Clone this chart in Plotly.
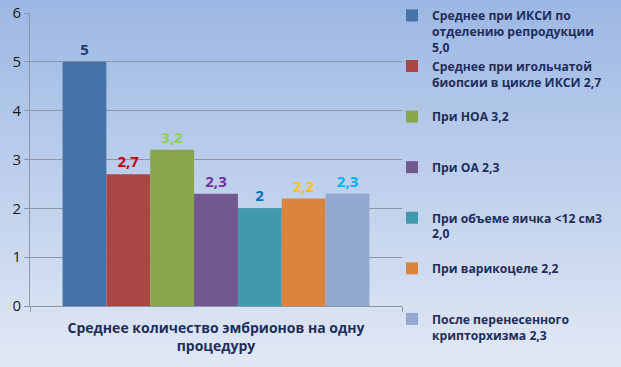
import plotly.graph_objects as go

category = "Среднее количество эмбрионов на одну<br>процедуру"
series_names = [
    "Среднее при ИКСИ по<br>отделению репродукции<br>5,0",
    "Среднее при игольчатой<br>биопсии в цикле ИКСИ 2,7<br> ",
    "При НОА 3,2<br> <br> ",
    "При ОА 2,3<br> <br> ",
    "При объеме яичка <12 см3<br>2,0<br> ",
    "При варикоцеле 2,2<br> <br> ",
    "После перенесенного<br>крипторхизма 2,3",
]
values = [5.0, 2.7, 3.2, 2.3, 2.0, 2.2, 2.3]
value_labels = ["5", "2,7", "3,2", "2,3", "2", "2,2", "2,3"]
bar_colors = ["#4572A7", "#AA4643", "#89A54E", "#71588F", "#4198AF", "#DB843D", "#93A9CF"]
label_colors = ["#1F3C73", "#C00000", "#92D050", "#7030A0", "#0070C0", "#FFC000", "#00B0F0"]
y_ticks = [0, 1, 2, 3, 4, 5, 6]

W, H = 621, 367
ml, mr, mt, mb = 30, 219, 13, 61
pw, ph = W - ml - mr, H - mt - mb

fig = go.Figure()
for name, v, lab, c, lc in zip(series_names, values, value_labels, bar_colors, label_colors):
    fig.add_trace(go.Bar(
        x=[category], y=[v], name=name,
        marker=dict(color=c, line=dict(width=0)),
        text=[lab], textposition="outside",
        textfont=dict(family="Open Sans", size=15, color=lc, weight="bold"),
        cliponaxis=False,
    ))

# background gradient
top = (157, 184, 228)
bot = (224, 232, 244)
n = 60
shapes = []
y_lo = -mb / ph
y_hi = 1 + mt / ph
for i in range(n):
    t = i / (n - 1)
    col = tuple(int(round(top[k] + (bot[k] - top[k]) * t)) for k in range(3))
    y1 = y_hi - (y_hi - y_lo) * i / n
    y0 = y_hi - (y_hi - y_lo) * (i + 1) / n - 0.002
    shapes.append(dict(type="rect", xref="paper", yref="paper",
                       x0=-ml / pw, x1=(W - ml) / pw, y0=y0, y1=y1,
                       fillcolor="rgb(%d,%d,%d)" % col, line=dict(width=0), layer="below"))

fig.update_layout(
    width=W, height=H,
    margin=dict(l=ml, r=mr, t=mt, b=mb, autoexpand=False),
    paper_bgcolor="rgb(%d,%d,%d)" % top,
    plot_bgcolor="rgba(0,0,0,0)",
    barmode="group", bargap=0.175, bargroupgap=0,
    shapes=shapes,
    font=dict(family="Open Sans", color="#1F2D5A"),
    legend=dict(
        x=(392 - ml) / pw, xanchor="left", y=1 + (mt - 1) / ph, yanchor="top",
        font=dict(family="Open Sans", size=12.2, color="#1F2D5A", weight="bold"),
        valign="top", tracegroupgap=0, bgcolor="rgba(0,0,0,0)",
        traceorder="normal", maxheight=420,
    ),
    xaxis=dict(
        showgrid=False, showline=True, linecolor="#8C96A8", linewidth=1,
        ticks="outside", ticklen=5, tickcolor="#8C96A8",
        tickfont=dict(family="Open Sans", size=14, color="#1F2D5A", weight="bold"),
        tickson="boundaries", ticklabelstandoff=9,
    ),
    yaxis=dict(
        range=[0, 6], tickvals=y_ticks, showgrid=True, gridcolor="#8C96A8", gridwidth=1,
        showline=True, linecolor="#8C96A8", linewidth=1,
        ticks="outside", ticklen=5, tickcolor="#8C96A8",
        tickfont=dict(family="Open Sans", size=15, color="#1A1A1A"),
        zeroline=False,
    ),
)

fig.write_html("out.html", config={"displayModeBar": False},
               post_script="document.body.style.margin='0';document.body.style.overflow='hidden';")
